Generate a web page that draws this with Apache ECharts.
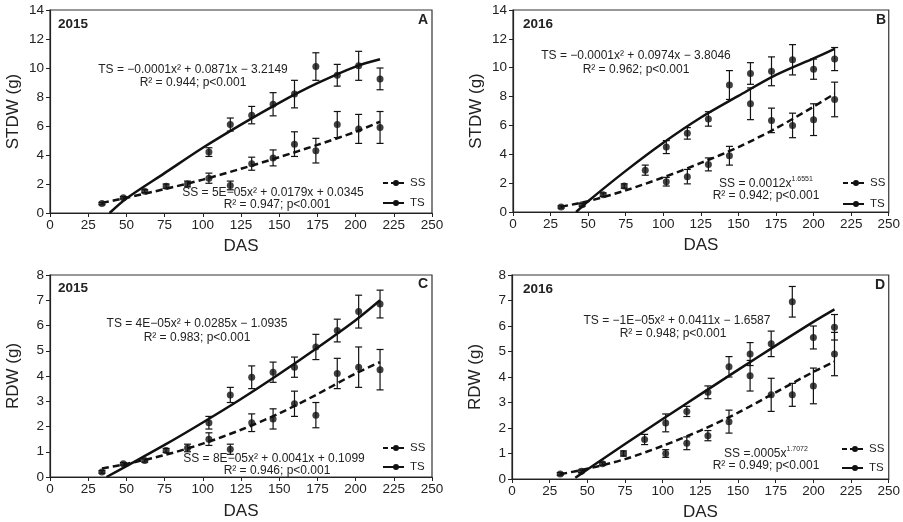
<!DOCTYPE html>
<html>
<head>
<meta charset="utf-8">
<script src="https://cdn.jsdelivr.net/npm/echarts@6/dist/echarts.min.js"></script>
<style>
  html, body { margin: 0; padding: 0; background: #fff; }
  #main { width: 903px; height: 522px; }
</style>
</head>
<body>
<div id="main"></div>
<script>
// sampling days
var das15 = [34, 48, 62, 76, 90, 104, 118, 132, 146, 160, 174, 188, 202, 216];
var das16 = [32, 46, 60, 74, 88, 102, 116, 130, 144, 158, 172, 186, 200, 214];

// STDW 2015
var stdwSS15    = [0.65, 1.05, 1.5, 1.85, 2.0, 2.4, 1.9, 3.4, 3.8, 4.75, 4.3, 6.1, 5.8, 5.9];
var stdwSS15Err = [0.08, 0.08, 0.1, 0.15, 0.2, 0.35, 0.3, 0.45, 0.55, 0.85, 0.85, 0.9, 1.0, 1.1];
var stdwTS15    = [null, null, null, null, null, 4.2, 6.1, 6.75, 7.5, 8.2, 10.1, 9.5, 10.15, 9.25];
var stdwTS15Err = [null, null, null, null, null, 0.3, 0.45, 0.6, 0.8, 0.95, 0.95, 0.75, 1.0, 0.75];
// STDW 2016
var stdwSS16    = [0.35, 0.5, 1.2, 1.8, null, 2.1, 2.45, 3.3, 3.9, 7.5, 6.35, 6.0, 6.4, 7.8];
var stdwSS16Err = [0.08, 0.1, 0.12, 0.15, null, 0.3, 0.5, 0.45, 0.65, 1.1, 0.85, 0.85, 1.1, 1.2];
var stdwTS16    = [null, null, null, null, 2.9, 4.5, 5.45, 6.45, 8.8, 9.6, 9.75, 10.55, 9.9, 10.6];
var stdwTS16Err = [null, null, null, null, 0.35, 0.45, 0.4, 0.5, 1.0, 0.75, 1.0, 1.05, 0.7, 0.8];
// RDW 2015
var rdwSS15    = [0.2, 0.52, 0.65, 1.05, 1.15, 1.5, 1.1, 2.15, 2.3, 2.9, 2.45, 4.1, 4.35, 4.25];
var rdwSS15Err = [0.05, 0.05, 0.06, 0.08, 0.15, 0.25, 0.2, 0.35, 0.4, 0.5, 0.5, 0.6, 0.8, 0.8];
var rdwTS15    = [null, null, null, null, null, 2.15, 3.25, 3.95, 4.15, 4.35, 5.15, 5.8, 6.55, 6.85];
var rdwTS15Err = [null, null, null, null, null, 0.25, 0.3, 0.45, 0.4, 0.4, 0.5, 0.45, 0.65, 0.55];
// RDW 2016
var rdwSS16    = [0.2, 0.3, 0.6, 1.0, null, 1.0, 1.4, 1.7, 2.25, 4.05, 3.3, 3.3, 3.65, 4.9];
var rdwSS16Err = [0.05, 0.05, 0.06, 0.1, null, 0.15, 0.25, 0.2, 0.45, 0.6, 0.65, 0.45, 0.7, 0.85];
var rdwTS16    = [null, null, null, null, 1.55, 2.2, 2.65, 3.4, 4.4, 4.9, 5.3, 6.95, 5.55, 5.95];
var rdwTS16Err = [null, null, null, null, 0.2, 0.35, 0.2, 0.25, 0.4, 0.45, 0.5, 0.6, 0.45, 0.5];

// fitted curves
var fitA_x = [39, 50, 75, 100, 125, 150, 175, 200, 216];
var fitA_TS = [0, 1.0, 2.75, 4.5, 6.1, 7.6, 8.95, 10.1, 10.6];
var fitA_xs = [34, 50, 75, 100, 125, 150, 175, 200, 216];
var fitA_SS = [0.7, 1.05, 1.65, 2.3, 3.05, 3.85, 4.7, 5.6, 6.3];
var fitB_x = [42, 50, 75, 100, 125, 150, 175, 200, 214];
var fitB_TS = [0, 0.75, 2.85, 4.8, 6.55, 8.05, 9.5, 10.65, 11.3];
var fitB_xs = [32, 50, 75, 100, 125, 150, 175, 200, 214];
var fitB_SS = [0.37, 0.75, 1.5, 2.4, 3.4, 4.5, 5.8, 7.3, 8.2];
var fitC_x = [37, 50, 75, 100, 125, 150, 175, 200, 216];
var fitC_TS = [0, 0.43, 1.27, 2.16, 3.09, 4.08, 5.12, 6.21, 7.0];
var fitC_xs = [34, 50, 75, 100, 125, 150, 175, 200, 216];
var fitC_SS = [0.34, 0.52, 0.87, 1.32, 1.87, 2.52, 3.28, 4.1, 4.55];
var fitD_x = [42, 50, 75, 100, 125, 150, 175, 200, 214];
var fitD_TS = [0.05, 0.37, 1.37, 2.35, 3.32, 4.28, 5.23, 6.16, 6.65];
var fitD_xs = [32, 50, 75, 100, 125, 150, 175, 200, 214];
var fitD_SS = [0.19, 0.4, 0.78, 1.3, 1.9, 2.6, 3.4, 4.2, 4.6];

var FONT = 'Arial, "Liberation Sans", sans-serif';
var INK = '#111';

function pairs(xs, ys) {
  var out = [];
  for (var i = 0; i < xs.length; i++) if (ys[i] != null) out.push([xs[i], ys[i]]);
  return out;
}
function bars(xs, ys, es) {
  var out = [];
  for (var i = 0; i < xs.length; i++) if (ys[i] != null) out.push([xs[i], ys[i] - es[i], ys[i] + es[i]]);
  return out;
}

function renderErr(params, api) {
  var x = api.value(0);
  var top = api.coord([x, api.value(2)]);
  var bot = api.coord([x, api.value(1)]);
  var w = 3.5;
  var st = { stroke: INK, lineWidth: 1.2 };
  return {
    type: 'group',
    children: [
      { type: 'line', shape: { x1: top[0], y1: top[1], x2: bot[0], y2: bot[1] }, style: st },
      { type: 'line', shape: { x1: top[0] - w, y1: top[1], x2: top[0] + w, y2: top[1] }, style: st },
      { type: 'line', shape: { x1: bot[0] - w, y1: bot[1], x2: bot[0] + w, y2: bot[1] }, style: st }
    ]
  };
}

var grids = [
  { left: 50, top: 10, width: 382, height: 203 },
  { left: 513, top: 10, width: 379, height: 202 },
  { left: 50, top: 275, width: 382, height: 202 },
  { left: 512, top: 275, width: 378, height: 204 }
];
grids.forEach(function (g) { g.show = true; g.borderColor = '#333'; g.borderWidth = 1.2; });

var axisText = { color: '#222', fontSize: 13.5, fontFamily: FONT };
function xAx(i, gap) {
  return {
    type: 'value', gridIndex: i, min: 0, max: 250, interval: 25,
    name: 'DAS', nameLocation: 'middle', nameGap: gap,
    nameTextStyle: { color: '#222', fontSize: 17, fontFamily: FONT },
    axisLine: { lineStyle: { color: '#222', width: 1.2 } },
    axisTick: { inside: false, length: 4, lineStyle: { color: '#222' } },
    axisLabel: Object.assign({ margin: 5 }, axisText),
    splitLine: { show: false }
  };
}
function yAx(i, name, max, interval) {
  return {
    type: 'value', gridIndex: i, min: 0, max: max, interval: interval,
    name: name, nameLocation: 'middle', nameGap: 28, nameRotate: 90,
    nameTextStyle: { color: '#222', fontSize: 17, fontFamily: FONT },
    axisLine: { lineStyle: { color: '#222', width: 1.2 } },
    axisTick: { inside: false, length: 4, lineStyle: { color: '#222' } },
    axisLabel: Object.assign({ margin: 6 }, axisText),
    splitLine: { show: false }
  };
}

var series = [];
function addPanel(i, xs, ss, ssErr, ts, tsErr, fxS, fyS, fxT, fyT) {
  series.push({
    type: 'line', xAxisIndex: i, yAxisIndex: i, data: pairs(fxS, fyS), smooth: 0.3,
    showSymbol: false, lineStyle: { color: INK, width: 2.5, type: [7, 4] }, z: 2
  });
  series.push({
    type: 'line', xAxisIndex: i, yAxisIndex: i, data: pairs(fxT, fyT), smooth: 0.3,
    showSymbol: false, lineStyle: { color: INK, width: 2.5 }, z: 2
  });
  series.push({
    type: 'custom', xAxisIndex: i, yAxisIndex: i, renderItem: renderErr,
    data: bars(xs, ss, ssErr).concat(bars(xs, ts, tsErr)), z: 3
  });
  series.push({
    type: 'scatter', xAxisIndex: i, yAxisIndex: i, data: pairs(xs, ss).concat(pairs(xs, ts)),
    symbolSize: 7, itemStyle: { color: INK }, z: 4
  });
}
addPanel(0, das15, stdwSS15, stdwSS15Err, stdwTS15, stdwTS15Err, fitA_xs, fitA_SS, fitA_x, fitA_TS);
addPanel(1, das16, stdwSS16, stdwSS16Err, stdwTS16, stdwTS16Err, fitB_xs, fitB_SS, fitB_x, fitB_TS);
addPanel(2, das15, rdwSS15, rdwSS15Err, rdwTS15, rdwTS15Err, fitC_xs, fitC_SS, fitC_x, fitC_TS);
addPanel(3, das16, rdwSS16, rdwSS16Err, rdwTS16, rdwTS16Err, fitD_xs, fitD_SS, fitD_x, fitD_TS);

// text and legend keys
var graphic = [];
function txt(x, y, s, opts) {
  opts = opts || {};
  graphic.push({
    type: 'text', x: x, y: y, z: 10,
    style: {
      text: s, fill: '#222', textAlign: opts.align || 'center', textVerticalAlign: 'middle',
      font: (opts.weight || 'normal') + ' ' + (opts.size || 12) + 'px ' + FONT,
      rich: opts.rich
    }
  });
}
function key(x, y, dashed, label) {
  graphic.push({
    type: 'line', shape: { x1: x, y1: y, x2: x + 21, y2: y }, z: 10,
    style: { stroke: INK, lineWidth: 2, lineDash: dashed ? [5, 3] : null }
  });
  graphic.push({ type: 'circle', shape: { cx: x + 13, cy: y, r: 3 }, z: 10, style: { fill: INK } });
  txt(x + 27, y, label, { align: 'left', size: 11.5 });
}
var supRich = {
  a: { fontSize: 12, fontFamily: FONT, color: '#222', lineHeight: 14, verticalAlign: 'bottom' },
  s: { fontSize: 7, fontFamily: FONT, color: '#222', lineHeight: 8, verticalAlign: 'top' }
};

// A
txt(73, 24, '2015', { weight: 'bold', size: 13.5 });
txt(423, 20, 'A', { weight: 'bold', size: 14 });
txt(193, 70, 'TS = \u22120.0001x\u00b2 + 0.0871x \u2212 3.2149');
txt(193, 83, 'R\u00b2 = 0.944; p<0.001');
txt(273, 193, 'SS = 5E\u221205x\u00b2 + 0.0179x + 0.0345');
txt(277, 205, 'R\u00b2 = 0.947; p<0.001');
key(383, 183, true, 'SS');
key(383, 203, false, 'TS');
// B
txt(538, 24, '2016', { weight: 'bold', size: 13.5 });
txt(881, 20, 'B', { weight: 'bold', size: 14 });
txt(636, 56, 'TS = \u22120.0001x\u00b2 + 0.0974x \u2212 3.8046');
txt(636, 70, 'R\u00b2 = 0.962; p<0.001');
txt(766, 183, '{a|SS = 0.0012x}{s|1.6551}', { rich: supRich });
txt(766, 196, 'R\u00b2 = 0.942; p<0.001');
key(843, 183, true, 'SS');
key(843, 204, false, 'TS');
// C
txt(73, 288, '2015', { weight: 'bold', size: 13.5 });
txt(423, 284, 'C', { weight: 'bold', size: 14 });
txt(197, 324, 'TS = 4E\u221205x\u00b2 + 0.0285x \u2212 1.0935');
txt(197, 338, 'R\u00b2 = 0.983; p<0.001');
txt(274, 459, 'SS = 8E\u221205x\u00b2 + 0.0041x + 0.1099');
txt(277, 471, 'R\u00b2 = 0.946; p<0.001');
key(383, 448, true, 'SS');
key(383, 467, false, 'TS');
// D
txt(538, 289, '2016', { weight: 'bold', size: 13.5 });
txt(880, 285, 'D', { weight: 'bold', size: 14 });
txt(677, 321, 'TS = \u22121E\u221205x\u00b2 + 0.0411x \u2212 1.6587');
txt(673, 334, 'R\u00b2 = 0.948; p<0.001');
txt(766, 453, '{a|SS =.0005x}{s|1.7072}', { rich: supRich });
txt(766, 466, 'R\u00b2 = 0.949; p<0.001');
key(842, 449, true, 'SS');
key(842, 468, false, 'TS');

var option = {
  animation: false,
  backgroundColor: '#fff',
  grid: grids,
  xAxis: [xAx(0, 25), xAx(1, 25), xAx(2, 26), xAx(3, 25)],
  yAxis: [yAx(0, 'STDW (g)', 14, 2), yAx(1, 'STDW (g)', 14, 2), yAx(2, 'RDW (g)', 8, 1), yAx(3, 'RDW (g)', 8, 1)],
  series: series,
  graphic: graphic
};

var myChart = echarts.init(document.getElementById('main'));
myChart.setOption(option);
</script>
</body>
</html>
